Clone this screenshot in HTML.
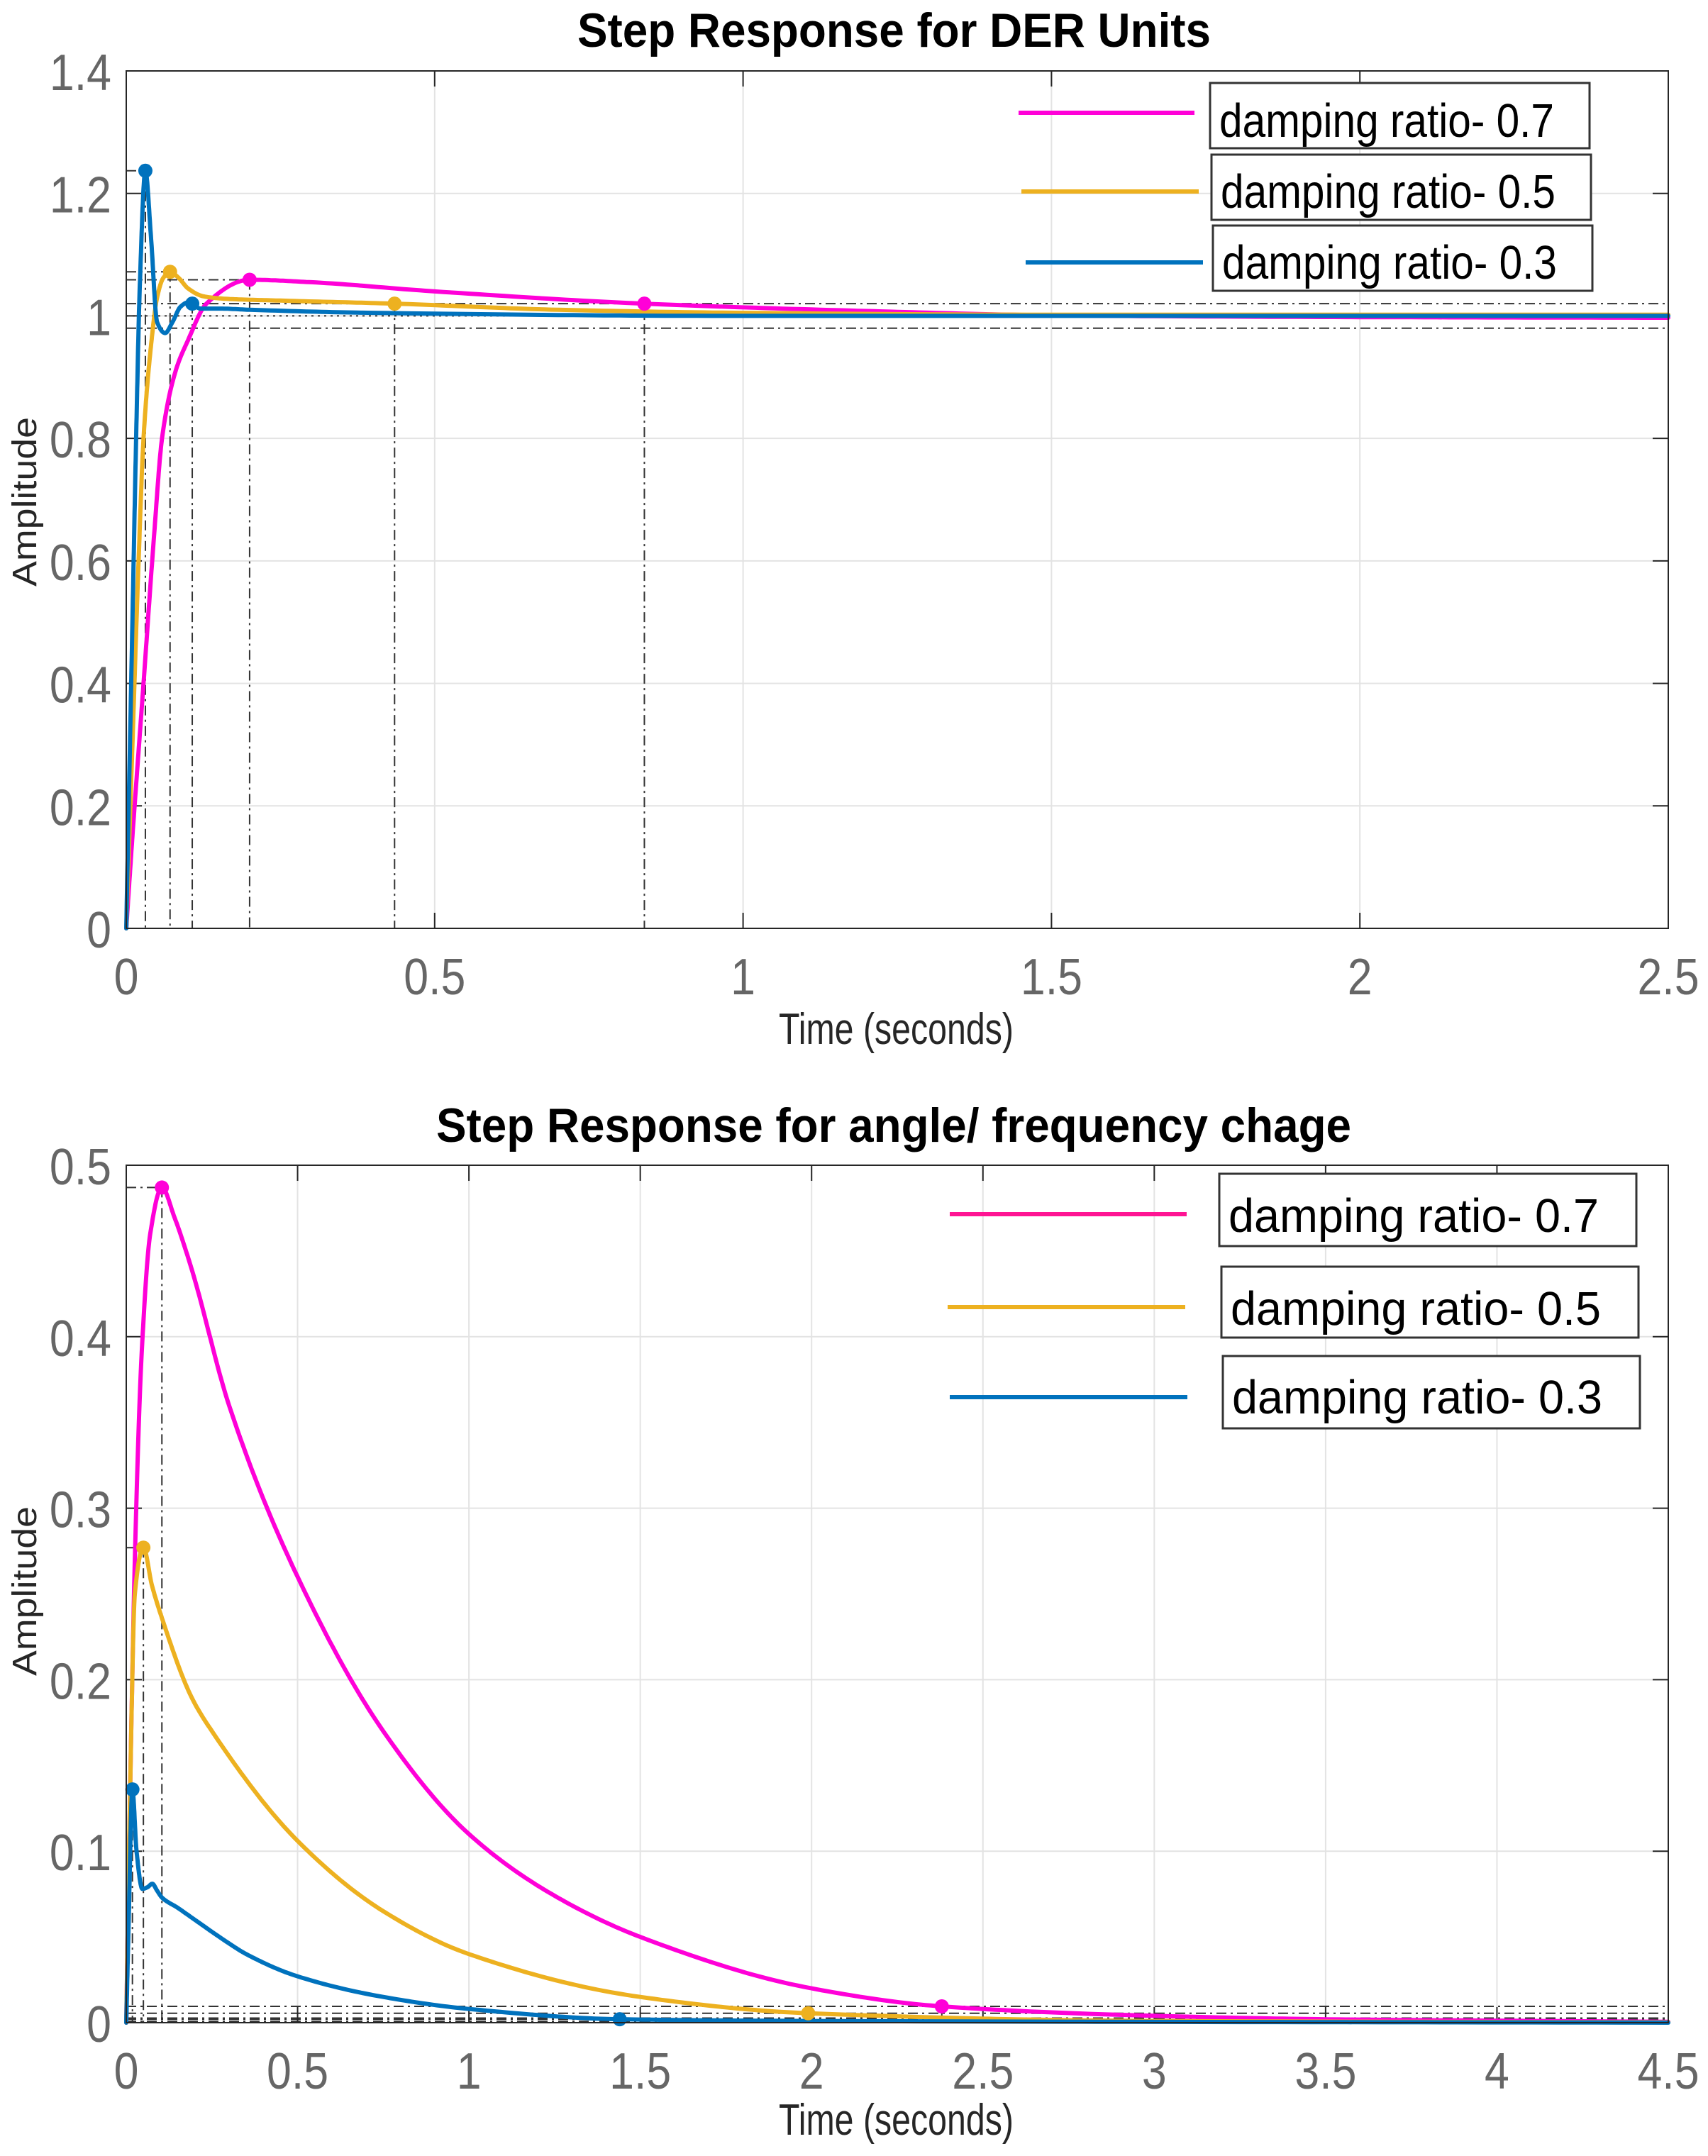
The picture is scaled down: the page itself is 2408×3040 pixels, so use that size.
<!DOCTYPE html>
<html><head><meta charset="utf-8"><style>
html,body{margin:0;padding:0;background:#fff;}
svg{display:block;}
</style></head>
<body>
<svg id="fig" xmlns="http://www.w3.org/2000/svg" width="2408" height="3040" viewBox="0 0 2408 3040">
<rect x="0" y="0" width="2408" height="3040" fill="#fff"/>
</svg>
<script>
// ---------- Top chart data ----------
const topXTicks = [0, 0.5, 1, 1.5, 2, 2.5];
const topXTickLabels = ["0", "0.5", "1", "1.5", "2", "2.5"];
const topYTicks = [0, 0.2, 0.4, 0.6, 0.8, 1, 1.2, 1.4];
const topYTickLabels = ["0", "0.2", "0.4", "0.6", "0.8", "1", "1.2", "1.4"];
const topMagT = [0, 0.01, 0.028, 0.045, 0.058, 0.08, 0.1, 0.13, 0.2, 0.3, 0.5, 0.84, 1.2, 1.5, 2, 2.5];
const topMagY = [0, 0.15, 0.4, 0.64, 0.8, 0.91, 0.96, 1.02, 1.059, 1.055, 1.04, 1.02, 1.008, 1.001, 0.998, 0.997];
const topYelT = [0, 0.01, 0.02, 0.028, 0.04, 0.05, 0.06, 0.071, 0.085, 0.1, 0.125, 0.16, 0.25, 0.435, 0.7, 1, 1.5, 2.5];
const topYelY = [0, 0.3, 0.6, 0.8, 0.95, 1.03, 1.062, 1.072, 1.062, 1.045, 1.032, 1.028, 1.025, 1.02, 1.01, 1.005, 1.002, 1.002];
const topBluT = [0, 0.01, 0.016, 0.022, 0.031, 0.04, 0.05, 0.063, 0.075, 0.088, 0.1, 0.107, 0.12, 0.15, 0.2, 0.4, 1, 2.5];
const topBluY = [0, 0.5, 0.8, 1.05, 1.237, 1.13, 0.99, 0.972, 0.99, 1.015, 1.022, 1.02, 1.012, 1.012, 1.01, 1.005, 1.0, 1.0];
const topMagMarks = [[0.2, 1.059], [0.84, 1.02]];
const topYelMarks = [[0.071, 1.072], [0.435, 1.02]];
const topBluMarks = [[0.031, 1.237], [0.107, 1.02]];
const topSettleBand = [1.02, 0.98];

// ---------- Bottom chart data ----------
const botXTicks = [0, 0.5, 1, 1.5, 2, 2.5, 3, 3.5, 4, 4.5];
const botXTickLabels = ["0", "0.5", "1", "1.5", "2", "2.5", "3", "3.5", "4", "4.5"];
const botYTicks = [0, 0.1, 0.2, 0.3, 0.4, 0.5];
const botYTickLabels = ["0", "0.1", "0.2", "0.3", "0.4", "0.5"];
const botMagT = [0, 0.01, 0.025, 0.045, 0.07, 0.104, 0.14, 0.19, 0.3, 0.5, 0.75, 1.0, 1.25, 1.5, 2, 2.38, 3, 3.5, 4.5];
const botMagY = [0, 0.12, 0.27, 0.39, 0.46, 0.487, 0.47, 0.44, 0.36, 0.26, 0.17, 0.11, 0.074, 0.05, 0.02, 0.0095, 0.004, 0.002, 0.0005];
const botYelT = [0, 0.01, 0.025, 0.05, 0.075, 0.104, 0.19, 0.25, 0.5, 0.75, 1.0, 1.5, 1.99, 3, 4.5];
const botYelY = [0, 0.12, 0.25, 0.277, 0.255, 0.236, 0.19, 0.17, 0.106, 0.065, 0.04, 0.015, 0.0055, 0.001, 0.0002];
const botBluT = [0, 0.006, 0.018, 0.03, 0.047, 0.062, 0.076, 0.09, 0.104, 0.15, 0.2, 0.294, 0.35, 0.5, 0.75, 1.0, 1.44, 2, 4.5];
const botBluY = [0, 0.05, 0.136, 0.1, 0.078, 0.079, 0.081, 0.077, 0.073, 0.067, 0.06, 0.047, 0.04, 0.027, 0.015, 0.008, 0.002, 0.001, 0.0];
const botMagMarks = [[0.104, 0.487], [2.38, 0.0095]];
const botYelMarks = [[0.05, 0.277], [1.99, 0.0055]];
const botBluMarks = [[0.018, 0.136], [1.44, 0.002]];
const botSettleLevels = [0.0095, 0.0055, 0.0027, 0.002, 0.0008];

const legendLabels = ["damping ratio- 0.7", "damping ratio- 0.5", "damping ratio- 0.3"];
const MAG = "#ff00d8", YEL = "#edb120", BLU = "#0072bd";

const NS = "http://www.w3.org/2000/svg";
const svg = document.getElementById("fig");
function mk(tag, attrs, parent) {
  const e = document.createElementNS(NS, tag);
  for (const k in attrs) e.setAttribute(k, attrs[k]);
  (parent || svg).appendChild(e);
  return e;
}
// monotone cubic (Fritsch-Carlson) interpolation, sampled densely
function monotonePts(xs, ys, sx, sy) {
  const n = xs.length, d = [], m = new Array(n);
  for (let i = 0; i < n - 1; i++) d.push((ys[i + 1] - ys[i]) / (xs[i + 1] - xs[i]));
  m[0] = d[0]; m[n - 1] = d[n - 2];
  for (let i = 1; i < n - 1; i++) {
    if (d[i - 1] * d[i] <= 0) { m[i] = 0; continue; }
    const h0 = xs[i] - xs[i - 1], h1 = xs[i + 1] - xs[i];
    const w1 = 2 * h1 + h0, w2 = h1 + 2 * h0;
    m[i] = (w1 + w2) / (w1 / d[i - 1] + w2 / d[i]);
  }
  const out = [];
  for (let i = 0; i < n - 1; i++) {
    const h = xs[i + 1] - xs[i], N = 24;
    for (let k = 0; k < N; k++) {
      const t = k / N, t2 = t * t, t3 = t2 * t;
      const v = (2 * t3 - 3 * t2 + 1) * ys[i] + (t3 - 2 * t2 + t) * h * m[i] + (-2 * t3 + 3 * t2) * ys[i + 1] + (t3 - t2) * h * m[i + 1];
      out.push([sx(xs[i] + t * h), sy(v)]);
    }
  }
  out.push([sx(xs[n - 1]), sy(ys[n - 1])]);
  return out;
}

function drawChart(cfg) {
  const g = mk("g", {});
  
  
  const L = 178, R = 2352, T = cfg.top, B = cfg.bottom;
  const sx = v => L + (v - cfg.xmin) / (cfg.xmax - cfg.xmin) * (R - L);
  const sy = v => B - (v - cfg.ymin) / (cfg.ymax - cfg.ymin) * (B - T);

  const grid = mk("g", {stroke: "#e3e3e3", "stroke-width": 2}, g);
  
  
  cfg.xticks.forEach(v => mk("line", {x1: sx(v), x2: sx(v), y1: T, y2: B}, grid));
  cfg.yticks.forEach(v => mk("line", {x1: L, x2: R, y1: sy(v), y2: sy(v)}, grid));

  const ann = mk("g", {stroke: "#333", "stroke-width": 2, "stroke-dasharray": "14,6,3,6", fill: "none"}, g);
  
  
  cfg.hfull.forEach(v => mk("line", {x1: L, x2: R, y1: sy(v), y2: sy(v)}, ann));
  mk("line", {x1: L, x2: R, y1: sy(cfg.dotLevel), y2: sy(cfg.dotLevel), "stroke-dasharray": "3,6"}, ann);
  cfg.marks.forEach(m => {
    m.pts.forEach((p, i) => {
      mk("line", {x1: sx(p[0]), x2: sx(p[0]), y1: sy(p[1]), y2: B}, ann);
      if (i === 0) mk("line", {x1: L, x2: sx(p[0]), y1: sy(p[1]), y2: sy(p[1])}, ann);
    });
  });

  const tk = mk("g", {stroke: "#262626", "stroke-width": 2}, g);
  cfg.xticks.forEach(v => { mk("line", {x1: sx(v), x2: sx(v), y1: B, y2: B - 22}, tk); mk("line", {x1: sx(v), x2: sx(v), y1: T, y2: T + 22}, tk); });
  cfg.yticks.forEach(v => { mk("line", {x1: L, x2: L + 22, y1: sy(v), y2: sy(v)}, tk); mk("line", {x1: R, x2: R - 22, y1: sy(v), y2: sy(v)}, tk); });

  cfg.series.forEach(s => {
    const pts = monotonePts(s.t, s.y, sx, sy);
    const d = "M" + pts.map(p => p[0].toFixed(1) + "," + p[1].toFixed(1)).join(" L");
    const p = mk("path", {d: d, fill: "none", stroke: s.color, "stroke-width": 6, "stroke-linejoin": "round", "stroke-linecap": "round"}, g);
    
    
  });
  cfg.marks.forEach(m => m.pts.forEach(p => {
    const c = mk("circle", {cx: sx(p[0]), cy: sy(p[1]), r: 10, fill: m.color}, g);
    
    
  }));

  const box = mk("rect", {x: L, y: T, width: R - L, height: B - T, fill: "none", stroke: "#262626", "stroke-width": 2}, g);
  
  

  cfg.xticks.forEach((v, i) => {
    const t = mk("text", {transform: "translate(" + sx(v) + "," + cfg.xLabelBase + ") scale(0.87,1)", "text-anchor": "middle", "font-size": 72, fill: "#666", "font-family": "Liberation Sans, sans-serif"}, g);
    t.textContent = cfg.xtl[i];
    
    
  });
  cfg.yticks.forEach((v, i) => {
    const t = mk("text", {transform: "translate(157," + (sy(v) + 27) + ") scale(0.87,1)", "text-anchor": "end", "font-size": 72, fill: "#666", "font-family": "Liberation Sans, sans-serif"}, g);
    t.textContent = cfg.ytl[i];
    
    
  });

  const title = mk("text", {x: cfg.titleX, y: cfg.titleBase, "font-size": 68, "font-weight": "bold", fill: "#000", "font-family": "Liberation Sans, sans-serif", textLength: cfg.titleW, lengthAdjust: "spacingAndGlyphs"}, g);
  title.textContent = cfg.title;
  
  
  const xl = mk("text", {x: 1098, y: cfg.xTitleBase, "font-size": 62, fill: "#262626", "font-family": "Liberation Sans, sans-serif", textLength: 331, lengthAdjust: "spacingAndGlyphs"}, g);
  xl.textContent = "Time (seconds)";
  
  
  const yl = mk("text", {transform: "translate(51," + cfg.yTitleStart + ") rotate(-90)", "font-size": 48, fill: "#262626", "font-family": "Liberation Sans, sans-serif", textLength: 239, lengthAdjust: "spacingAndGlyphs"}, g);
  yl.textContent = "Amplitude";
  
  

  const lg = mk("g", {}, g);
  
  
  cfg.legend.forEach((e, i) => {
    const le = mk("g", {}, lg);
    
    
    mk("line", {x1: e.lx1, x2: e.lx2, y1: e.ly, y2: e.ly, stroke: e.color, "stroke-width": 6}, le);
    mk("rect", {x: e.bx, y: e.by, width: e.bw, height: e.bh, fill: "#fff", stroke: "#333", "stroke-width": 3}, le);
    const t = mk("text", {x: e.bx + 13, y: e.base, "font-size": 67, fill: "#000", "font-family": "Liberation Sans, sans-serif", textLength: e.tw, lengthAdjust: "spacingAndGlyphs"}, le);
    t.textContent = legendLabels[i];
  });
}

drawChart({
  name: "der-units-chart", top: 100, bottom: 1309, xmin: 0, xmax: 2.5, ymin: 0, ymax: 1.4,
  xticks: topXTicks, xtl: topXTickLabels, yticks: topYTicks, ytl: topYTickLabels,
  hfull: topSettleBand, dotLevel: 1,
  series: [
    {name: "series-zeta-0.7", t: topMagT, y: topMagY, color: MAG},
    {name: "series-zeta-0.5", t: topYelT, y: topYelY, color: YEL},
    {name: "series-zeta-0.3", t: topBluT, y: topBluY, color: BLU}],
  marks: [
    {name: "marker-zeta-0.7", pts: topMagMarks, color: MAG},
    {name: "marker-zeta-0.5", pts: topYelMarks, color: YEL},
    {name: "marker-zeta-0.3", pts: topBluMarks, color: BLU}],
  xLabelBase: 1402, title: "Step Response for DER Units", titleX: 814, titleW: 893, titleBase: 66,
  xTitleBase: 1472, yTitleStart: 827,
  legend: [
    {color: MAG, lx1: 1436, lx2: 1684, ly: 159, bx: 1706, by: 117, bw: 535, bh: 92, base: 193, tw: 472},
    {color: YEL, lx1: 1440, lx2: 1690, ly: 270, bx: 1708, by: 218, bw: 535, bh: 92, base: 293, tw: 472},
    {color: BLU, lx1: 1446, lx2: 1696, ly: 370, bx: 1710, by: 318, bw: 535, bh: 92, base: 393, tw: 472}]
});

drawChart({
  name: "angle-frequency-chart", top: 1643, bottom: 2852, xmin: 0, xmax: 4.5, ymin: 0, ymax: 0.5,
  xticks: botXTicks, xtl: botXTickLabels, yticks: botYTicks, ytl: botYTickLabels,
  hfull: botSettleLevels, dotLevel: 0,
  series: [
    {name: "series-zeta-0.7", t: botMagT, y: botMagY, color: MAG},
    {name: "series-zeta-0.5", t: botYelT, y: botYelY, color: YEL},
    {name: "series-zeta-0.3", t: botBluT, y: botBluY, color: BLU}],
  marks: [
    {name: "marker-zeta-0.7", pts: botMagMarks, color: MAG},
    {name: "marker-zeta-0.5", pts: botYelMarks, color: YEL},
    {name: "marker-zeta-0.3", pts: botBluMarks, color: BLU}],
  xLabelBase: 2945, title: "Step Response for angle/ frequency chage", titleX: 615, titleW: 1290, titleBase: 1610,
  xTitleBase: 3010, yTitleStart: 2363,
  legend: [
    {color: "#ff1493", lx1: 1339, lx2: 1673, ly: 1712, bx: 1719, by: 1655, bw: 588, bh: 102, base: 1737, tw: 522},
    {color: YEL, lx1: 1336, lx2: 1671, ly: 1843, bx: 1722, by: 1786, bw: 588, bh: 100, base: 1868, tw: 522},
    {color: BLU, lx1: 1339, lx2: 1674, ly: 1970, bx: 1724, by: 1912, bw: 588, bh: 102, base: 1993, tw: 522}]
});
</script>
</body></html>
